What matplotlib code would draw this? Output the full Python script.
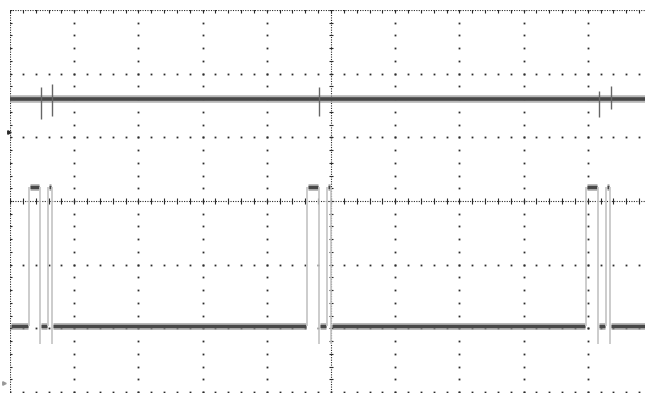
import numpy as np
import matplotlib.pyplot as plt

# screen is 10 x 6 divisions, values in divisions from screen centre
ch1_level = 1.6
ch2_low = -1.97
ch2_high = 0.22
ch2_undershoot = -2.24

# each burst: rise, fall, rise, fall (time in divisions)
bursts = [
    [0.29, 0.47, 0.59, 0.65],
    [4.63, 4.81, 4.94, 5.00],
    [8.97, 9.16, 9.28, 9.35],
]

# glitches coupled into channel 1 at the falling edges
spike_x = [0.48, 0.655, 4.82, 9.17, 9.36]
spike_top = [1.79, 1.84, 1.79, 1.72, 1.80]
spike_bot = [1.29, 1.34, 1.34, 1.32, 1.44]

trace_col = '#484848'
halo_col = '#9a9a9a'
edge_col = '#c4c4c4'
grid_col = '#2a2a2a'

fig = plt.figure(figsize=(6.45, 3.94), dpi=100)
ax = fig.add_axes([10 / 645, 2 / 394, 642 / 645, 382 / 394])
ax.set_xlim(0, 10)
ax.set_ylim(-3, 3)
ax.axis('off')

minor_x = np.arange(0, 10.01, 0.2)
minor_y = np.arange(-3, 3.01, 0.2)

# plain graticule lines: one dot per minor division
for gx in [1, 2, 3, 4, 6, 7, 8, 9]:
    ax.plot(np.full_like(minor_y, gx), minor_y, 's', ms=1.3, color=grid_col, mew=0)
for gy in [-3, -2, -1, 1, 2]:
    ax.plot(minor_x, np.full_like(minor_x, gy), 's', ms=1.3, color=grid_col, mew=0)

# centre lines and top/left border: fine dotted with small ticks
for gx in [0, 5]:
    ax.plot([gx, gx], [-3, 3], color=grid_col, lw=0.8, ls=(0, (1, 1.2)))
    ax.hlines(minor_y, gx - 0.035, gx + 0.035, color=grid_col, lw=0.8)
for gy in [3, 0]:
    ax.plot([0, 10], [gy, gy], color=grid_col, lw=0.8, ls=(0, (1, 1.2)))
    ax.vlines(minor_x, gy - 0.05, gy + 0.05, color=grid_col, lw=0.8)

# channel 1: flat noisy trace
ax.plot([0, 10], [ch1_level, ch1_level], color=halo_col, lw=5.5, alpha=0.7, solid_capstyle='butt')
ax.plot([0, 10], [ch1_level, ch1_level], color=trace_col, lw=2.6, solid_capstyle='butt')
ax.vlines(spike_x, spike_bot, spike_top, color='#666666', lw=1.0)

# channel 2: bursts of two pulses
segs = []
start = 0.0
for r1, f1, r2, f2 in bursts:
    segs.append((start, r1, ch2_low))
    segs.append((r1, f1, ch2_high))
    segs.append((f1, r2, ch2_low))
    segs.append((r2, f2, ch2_high))
    start = f2
segs.append((start, 10.0, ch2_low))

for x0, x1, lvl in segs:
    x0 += 0.015
    x1 -= 0.015
    ax.plot([x0, x1], [lvl, lvl], color=halo_col, lw=5.0, alpha=0.7, solid_capstyle='butt')
    ax.plot([x0, x1], [lvl, lvl], color=trace_col, lw=2.4, solid_capstyle='butt')

for r1, f1, r2, f2 in bursts:
    ax.vlines([r1, r2], ch2_low, ch2_high, color=edge_col, lw=1.2)
    ax.vlines([f1, f2], ch2_undershoot, ch2_high, color=edge_col, lw=1.2)

# channel ground markers at the left edge
ax.plot([-0.02], [1.08], marker='>', ms=2.5, color=grid_col, clip_on=False)
ax.plot([-0.1], [-2.86], marker='>', ms=2.5, color='#999999', clip_on=False)

fig.savefig('out.png', dpi=100, facecolor='white')
